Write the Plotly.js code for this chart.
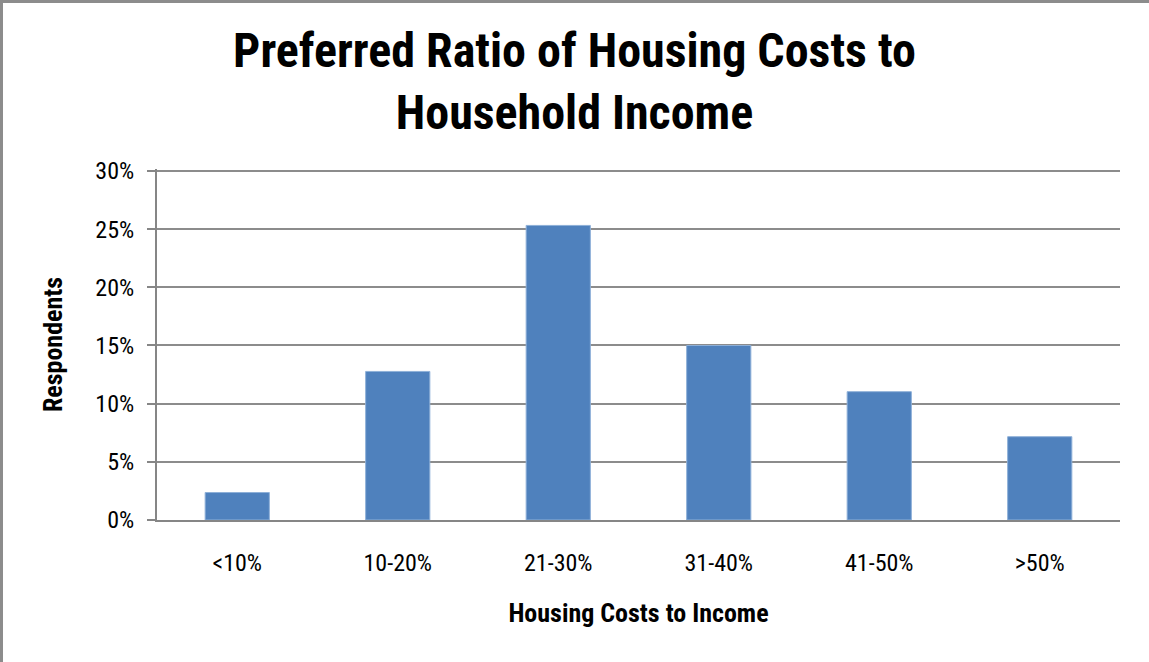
<!DOCTYPE html>
<html>
<head>
<meta charset="utf-8">
<script src="https://cdn.plot.ly/plotly-3.0.1.min.js"></script>
<style>
html,body{margin:0;padding:0;background:#fff;}
#wrap{position:relative;width:1149px;height:662px;}
#chart{width:1149px;height:662px;}
#frame{position:absolute;left:0;top:0;width:1149px;height:662px;box-sizing:border-box;border-left:3px solid #8c8c8c;border-top:3px solid #8c8c8c;pointer-events:none;}
</style>
</head>
<body>
<div id="wrap"><div id="chart"></div><div id="frame"></div></div>
<script>
const categories = ['<10%', '10-20%', '21-30%', '31-40%', '41-50%', '>50%'];
const respondents = [0.0236, 0.1277, 0.2532, 0.1500, 0.1103, 0.0716];
const yTickVals = [0, 0.05, 0.10, 0.15, 0.20, 0.25, 0.30];
const yTickText = ['0%', '5%', '10%', '15%', '20%', '25%', '30%'];

const narrow = '"Liberation Sans Narrow", "Arial Narrow", "Roboto Condensed", sans-serif';

const trace = {
  type: 'bar',
  x: categories,
  y: respondents,
  marker: {color: '#4F81BD', line: {color: '#8eb0d8', width: 1}},
  hoverinfo: 'x+y'
};

const layout = {
  width: 1149,
  height: 662,
  margin: {l: 157, r: 29, t: 169, b: 142},
  paper_bgcolor: '#ffffff',
  plot_bgcolor: '#ffffff',
  showlegend: false,
  bargap: 0.6,
  title: {
    text: '<b>Preferred Ratio of Housing Costs to<br>Household Income</b>',
    font: {family: narrow, size: 48, color: '#000000'},
    x: 0.5, xref: 'container', xanchor: 'center',
    y: 1 - 67/662, yref: 'container', yanchor: 'middle'
  },
  xaxis: {
    type: 'category',
    showline: true, linecolor: '#868686', linewidth: 2,
    showgrid: false, ticks: '',
    tickfont: {family: narrow, size: 24, color: '#000000'},
    ticklabelstandoff: 20,
    title: {text: '<b>Housing Costs to Income</b>', font: {family: narrow, size: 26, color: '#000000'}, standoff: 28}
  },
  yaxis: {
    range: [0, 0.3017],
    tickvals: yTickVals,
    ticktext: yTickText,
    showline: true, linecolor: '#868686', linewidth: 2,
    showgrid: true, gridcolor: '#8c8c8c', gridwidth: 2,
    zeroline: false,
    ticks: 'outside', ticklen: 8, tickcolor: '#868686', tickwidth: 2,
    tickfont: {family: narrow, size: 24, color: '#000000'},
    ticklabelstandoff: 8,
    title: {text: '<b>Respondents</b>', font: {family: narrow, size: 26, color: '#000000'}, standoff: 25}
  }
};

Plotly.newPlot('chart', [trace], layout, {displayModeBar: false, staticPlot: true});
</script>
</body>
</html>
